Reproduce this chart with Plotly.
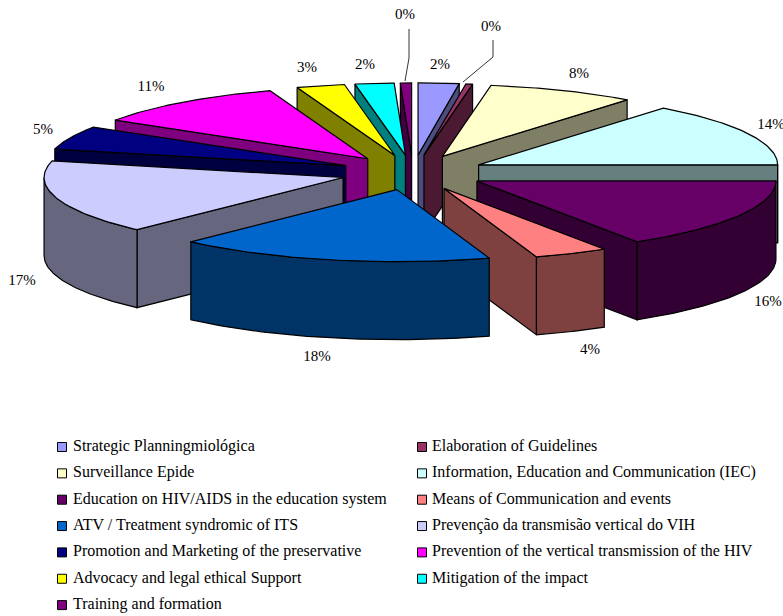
import numpy as np
import plotly.graph_objects as go

categories = [
    "Strategic Planningmiológica",
    "Elaboration of Guidelines",
    "Surveillance Epide",
    "Information, Education and Communication (IEC)",
    "Education on HIV/AIDS in the education system",
    "Means of Communication and events",
    "ATV / Treatment syndromic of ITS",
    "Prevenção da transmisão vertical do VIH",
    "Promotion and Marketing of the preservative",
    "Prevention of the vertical transmission of the HIV",
    "Advocacy and legal ethical Support",
    "Mitigation of the impact",
    "Training and formation",
]
values = [2.2, 0.4, 8.0, 14.4, 16.0, 4.0, 17.1, 16.6, 5.3, 10.7, 2.6, 2.1, 0.6]
pct_labels = ["2%", "0%", "8%", "14%", "16%", "4%", "18%", "17%", "5%", "11%", "3%", "2%", "0%"]
colors = ["#9999FF", "#993366", "#FFFFCC", "#CCFFFF", "#660066", "#FF8080", "#0066CC",
          "#CCCCFF", "#000080", "#FF00FF", "#FFFF00", "#00FFFF", "#800080"]

# pie geometry, in page pixels
CX, CY = 413, 172.5
RX, RY = 299, 72
EXPLODE = 0.244
DEPTH = 78

# where the percent labels sit
label_x = [440, 491, 579, 771, 768, 590, 317, 22, 43, 151, 307, 365, 405]
label_y = [65, 27, 74, 125, 302, 350, 357, 281, 130, 87, 68, 65, 15]

FONT = "Liberation Serif, Times New Roman, serif"


def darken(hex_color):
    r, g, b = [int(hex_color[i:i + 2], 16) for i in (1, 3, 5)]
    return f"rgb({r // 2},{g // 2},{b // 2})"


def polygon(xs, ys, fill):
    return go.Scatter(
        x=list(xs) + [xs[0]],
        y=list(ys) + [ys[0]],
        mode="lines",
        fill="toself",
        fillcolor=fill,
        line=dict(color="black", width=1.2),
        hoverinfo="skip",
        showlegend=False,
    )


def slice_traces(start, end, color):
    """Top and visible walls of one exploded slice, angles in degrees clockwise from 12."""
    mid = np.radians((start + end) / 2)
    ax = CX + EXPLODE * RX * np.sin(mid)
    ay = CY - EXPLODE * RY * np.cos(mid)

    def rim(a):
        a = np.radians(a)
        return ax + RX * np.sin(a), ay - RY * np.cos(a)

    wall = darken(color)
    traces = []

    # straight walls, only those facing the viewer
    for edge, facing in ((start, np.sin(np.radians(start)) < 0), (end, np.sin(np.radians(end)) > 0)):
        if facing:
            ex, ey = rim(edge)
            traces.append(polygon([ax, ex, ex, ax], [ay, ey, ey + DEPTH, ay + DEPTH], wall))

    # curved wall, front half of the ellipse only
    lo, hi = max(start, 90), min(end, 270)
    if lo < hi:
        ex, ey = rim(np.linspace(lo, hi, 60))
        traces.append(polygon(np.r_[ex, ex[::-1]], np.r_[ey, ey[::-1] + DEPTH], wall))

    ex, ey = rim(np.linspace(start, end, 60))
    traces.append(polygon(np.r_[ax, ex], np.r_[ay, ey], color))
    return traces


fig = go.Figure()

edges = np.r_[0, np.cumsum(values)] / np.sum(values) * 360
slices = list(zip(edges[:-1], edges[1:], colors))
# back slices first so the front ones overlap them
slices.sort(key=lambda s: -abs((s[0] + s[1]) / 2 - 180))
for start, end, color in slices:
    fig.add_traces(slice_traces(start, end, color))

# leader lines for the two 0% labels
for xs, ys in (([409, 409, 405], [29, 58, 81]), ([493, 493, 463], [40, 57, 82])):
    fig.add_trace(go.Scatter(x=xs, y=ys, mode="lines", line=dict(color="black", width=0.8),
                             hoverinfo="skip", showlegend=False))

fig.add_trace(go.Scatter(
    x=label_x, y=label_y, text=pct_labels, mode="text",
    textfont=dict(family=FONT, size=15, color="black"),
    hoverinfo="skip", showlegend=False, cliponaxis=False,
))

# legend, two columns filled row by row
leg_x = [62 if i % 2 == 0 else 422 for i in range(len(categories))]
leg_text_x = [73 if i % 2 == 0 else 432 for i in range(len(categories))]
leg_y = [447 + 26.35 * (i // 2) for i in range(len(categories))]
fig.add_trace(go.Scatter(
    x=leg_x, y=leg_y, mode="markers",
    marker=dict(symbol="square", size=9, color=colors, line=dict(color="black", width=1)),
    hoverinfo="skip", showlegend=False,
))
fig.add_trace(go.Scatter(
    x=leg_text_x, y=leg_y, text=categories, mode="text", textposition="middle right",
    textfont=dict(family=FONT, size=16, color="black"),
    hoverinfo="skip", showlegend=False, cliponaxis=False,
))

fig.update_layout(
    width=783,
    height=616,
    margin=dict(l=0, r=0, t=0, b=0),
    paper_bgcolor="white",
    plot_bgcolor="white",
    showlegend=False,
    xaxis=dict(range=[0, 783], visible=False, fixedrange=True),
    yaxis=dict(range=[616, 0], visible=False, fixedrange=True),
)

fig.write_html("out.html", config=dict(displayModeBar=False),
               post_script="document.body.style.margin='0';")
